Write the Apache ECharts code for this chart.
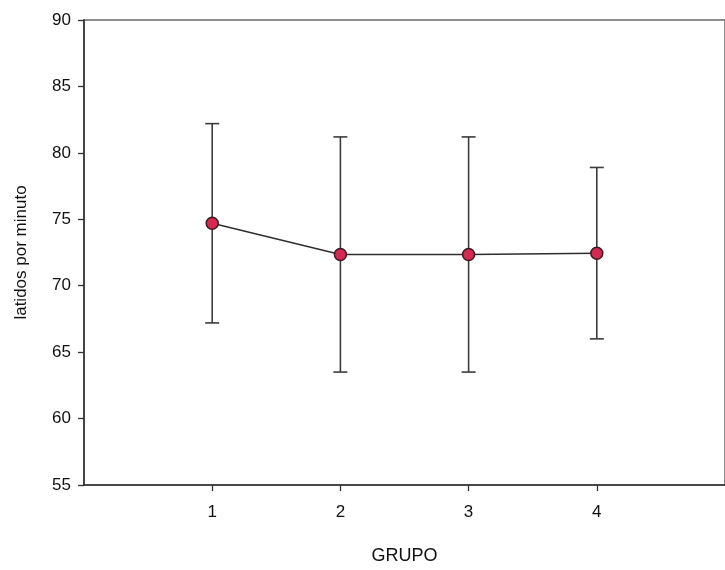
<!DOCTYPE html>
<html>
<head>
<meta charset="utf-8">
<script src="https://cdn.jsdelivr.net/npm/echarts@6/dist/echarts.min.js"></script>
<style>
  html, body { margin: 0; padding: 0; background: #ffffff; }
  #chart { width: 725px; height: 570px; }
</style>
</head>
<body>
<div id="chart"></div>
<script>
// Heart rate by group: mean with ± error bars
const grupos = [1, 2, 3, 4];
const medias = [74.7, 72.35, 72.35, 72.45];
const errores = [7.5, 8.85, 8.85, 6.45];
const yTicks = [55, 60, 65, 70, 75, 80, 85, 90];

const puntos = grupos.map((g, i) => [g, medias[i]]);
const barras = grupos.map((g, i) => [g, medias[i] - errores[i], medias[i] + errores[i]]);

const FONT = '"Liberation Sans", Arial, sans-serif';
const INK = '#333333';
const TEXT = '#111111';

const chart = echarts.init(document.getElementById('chart'), null, { renderer: 'canvas' });

chart.setOption({
  backgroundColor: '#ffffff',
  animation: false,
  grid: {
    left: 84, right: -5, top: 20, bottom: 84,
    show: true, borderColor: '#6a6a6a', borderWidth: 1.5
  },
  xAxis: {
    type: 'value',
    min: 0, max: 5, interval: 1,
    name: 'GRUPO',
    nameLocation: 'middle',
    nameGap: 62,
    nameTextStyle: { fontFamily: FONT, fontSize: 18, color: TEXT },
    axisLine: { show: true, lineStyle: { color: INK, width: 1.6 } },
    axisTick: { show: true, length: 6, lineStyle: { color: INK, width: 1.3 } },
    axisLabel: {
      showMinLabel: false, showMaxLabel: false,
      margin: 19,
      fontFamily: FONT, fontSize: 17, color: TEXT
    },
    splitLine: { show: false }
  },
  yAxis: {
    type: 'value',
    min: yTicks[0], max: yTicks[yTicks.length - 1], interval: 5,
    name: 'latidos por minuto',
    nameLocation: 'middle',
    nameGap: 54,
    nameTextStyle: { fontFamily: FONT, fontSize: 17, color: TEXT },
    axisLine: { show: true, lineStyle: { color: INK, width: 1.6 } },
    axisTick: { show: true, length: 6, lineStyle: { color: INK, width: 1.3 } },
    axisLabel: {
      margin: 13,
      fontFamily: FONT, fontSize: 17, color: TEXT
    },
    splitLine: { show: false }
  },
  series: [
    {
      // vertical whiskers with end caps
      type: 'custom',
      data: barras,
      z: 2,
      renderItem: function (params, api) {
        const x = api.value(0);
        const lo = api.coord([x, api.value(1)]);
        const hi = api.coord([x, api.value(2)]);
        const half = 7;
        const style = { stroke: '#3c3c3c', lineWidth: 1.6 };
        return {
          type: 'group',
          children: [
            { type: 'line', shape: { x1: lo[0], y1: lo[1], x2: hi[0], y2: hi[1] }, style: style },
            { type: 'line', shape: { x1: hi[0] - half, y1: hi[1], x2: hi[0] + half, y2: hi[1] }, style: style },
            { type: 'line', shape: { x1: lo[0] - half, y1: lo[1], x2: lo[0] + half, y2: lo[1] }, style: style }
          ]
        };
      }
    },
    {
      type: 'line',
      data: puntos,
      z: 3,
      symbol: 'circle',
      symbolSize: 12,
      lineStyle: { color: '#2e2e2e', width: 1.5 },
      itemStyle: { color: '#d42a4f', borderColor: '#3a1a22', borderWidth: 1.5 }
    }
  ]
});
</script>
</body>
</html>
